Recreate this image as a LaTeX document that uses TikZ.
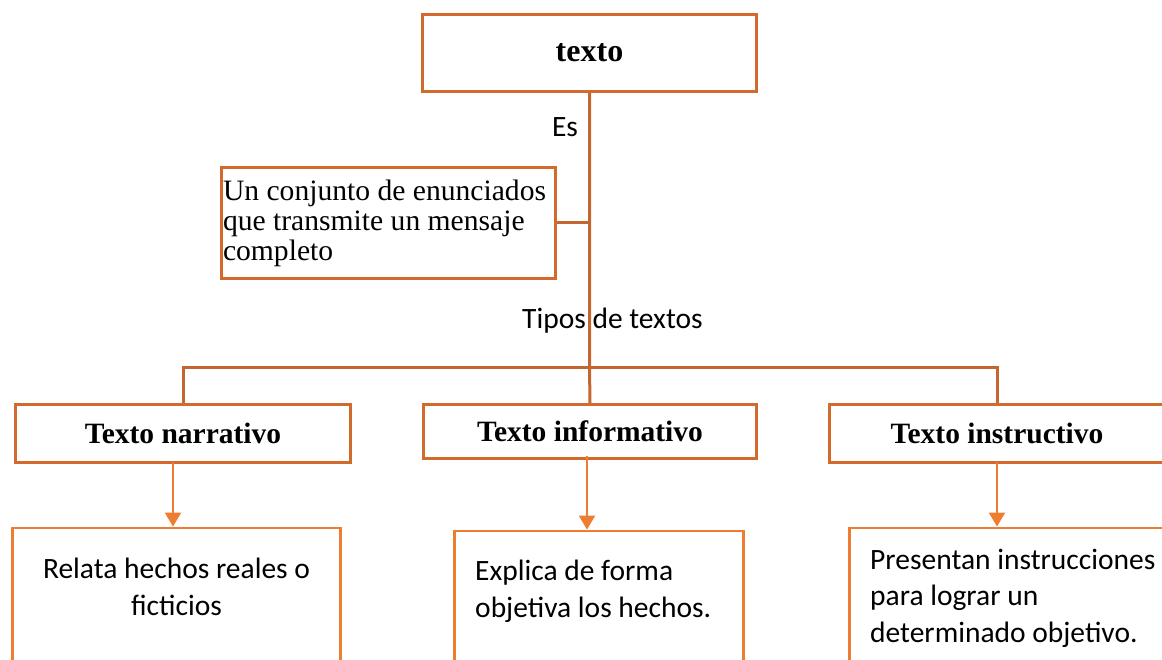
\documentclass[tikz,border=0pt]{standalone}
\usepackage{fontspec}
\setmainfont{Liberation Serif}
\newfontfamily\calibri{Carlito}
\usetikzlibrary{arrows.meta}
\definecolor{borde}{HTML}{D36A2D}
\definecolor{linea}{HTML}{C4662F}
\definecolor{naranja}{HTML}{ED7D31}

\begin{document}
\begin{tikzpicture}[x=1pt,y=-1pt,
    caja/.style={draw=borde,line width=2.8pt,inner sep=0pt},
    tit/.style={caja,font=\fontsize{29.5}{30}\selectfont\bfseries},
    baja/.style={draw=naranja,line width=2.8pt,inner sep=0pt},
    cal/.style={font=\calibri\fontsize{29.5}{36.5}\selectfont,inner sep=0pt},
    rama/.style={draw=linea,line width=3pt},
    flecha/.style={draw=naranja,line width=2pt,-{Triangle[width=16pt,length=14pt]}}]
    \path[use as bounding box,clip] (0,0) rectangle (1162,660);
    \node[tit,minimum width=334,minimum height=77,font=\fontsize{32}{32}\selectfont\bfseries] (T) at (589.5,53) {texto};
    \node[caja,minimum width=334,minimum height=111,text width=331,align=flush left,
        font=\fontsize{29.6}{30}\selectfont] (C) at (388.5,223)
        {Un conjunto de enunciados\\que transmite un mensaje\\completo};
    \node[cal,anchor=base] (E1) at (565,137) {Es};
    \node[cal,anchor=base] (E2) at (612.5,329) {Tipos de textos};
    \coordinate (X) at (589.5,367);
    % tipos
    \node[tit,minimum width=335,minimum height=58] (A1) at (183,433.5) {Texto narrativo};
    \node[tit,minimum width=333,minimum height=54] (A2) at (590,431.5) {Texto informativo};
    \node[tit,minimum width=335,minimum height=58] (A3) at (997,433.5) {Texto instructivo};
    % cajas de abajo
    \node[baja,minimum width=328,minimum height=200] (B1) at (176.5,628) {};
    \node[baja,minimum width=289,minimum height=197] (B2) at (599,629.5) {};
    \node[baja,minimum width=319,minimum height=200] (B3) at (1009,628) {};
    \node[cal,anchor=base,align=center] (D1) at (176.5,615)
        {Relata hechos reales o\\ficticios};
    \node[cal,anchor=base west,align=left] (D2) at (475,617)
        {Explica de forma\\objetiva los hechos.};
    \node[cal,anchor=base west,align=left] (D3) at (870,642)
        {Presentan instrucciones\\para lograr un\\determinado objetivo.};
    % lineas
    \draw[rama] (T.south) -- (X) -- (A2.north);
    \draw[rama] (C.east) -- (T.south |- C.east);
    \draw[rama] (A1.north) |- (X) -| (A3.north);
    \draw[flecha] ([xshift=-10pt,yshift=2pt]A1.south) -- ([xshift=-10pt]A1.south |- B1.north);
    \draw[flecha] ([xshift=-3pt,yshift=4pt]A2.south) -- ([xshift=-3pt]A2.south |- B2.north);
    \draw[flecha] ([yshift=2pt]A3.south) -- (A3.south |- B3.north);
\end{tikzpicture}
\end{document}
